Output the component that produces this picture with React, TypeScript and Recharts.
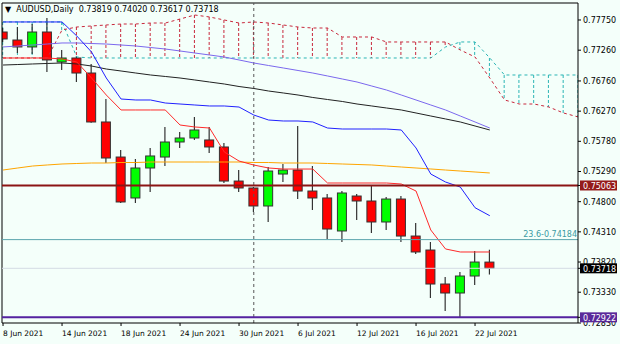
import React from "react"
import { ComposedChart, Bar, Line, XAxis, YAxis, ReferenceLine } from "recharts"

// bar index -> date label (every 4th bar)
const dateTicks = [0, 4, 8, 12, 16, 20, 24, 28, 32]
const dateLabels = ["8 Jun 2021", "14 Jun 2021", "18 Jun 2021", "24 Jun 2021", "30 Jun 2021", "6 Jul 2021", "12 Jul 2021", "16 Jul 2021", "22 Jul 2021"]

const priceTicks = [0.7775, 0.7726, 0.7676, 0.7627, 0.7578, 0.7529, 0.748, 0.7431, 0.7382, 0.7333, 0.7283]
// price tags on the axis (bid, resistance, support)
const tagValues = [0.73718, 0.75063, 0.72922]
const tagColors = ["#000000", "#941a1a", "#5a2a9a"]

const opens = [0.77555, 0.77425, 0.77312, 0.77555, 0.77068, 0.77133, 0.76889, 0.76094, 0.75525, 0.7486, 0.75347, 0.75525, 0.75769, 0.75834, 0.75802, 0.75688, 0.75135, 0.75022, 0.7473, 0.75249, 0.75314, 0.74973, 0.7486, 0.74324, 0.74892, 0.74811, 0.7447, 0.74843, 0.74242, 0.74015, 0.73463, 0.73317, 0.73593, 0.73819]
const highs = [0.7762, 0.77636, 0.77685, 0.77783, 0.77263, 0.77166, 0.77036, 0.76467, 0.75639, 0.75493, 0.75672, 0.76013, 0.75931, 0.76175, 0.76013, 0.75753, 0.75314, 0.75038, 0.75363, 0.75412, 0.76029, 0.75379, 0.74925, 0.74973, 0.74925, 0.75071, 0.74876, 0.74892, 0.74454, 0.74145, 0.73577, 0.73658, 0.73999, 0.7402]
const lows = [0.77393, 0.77214, 0.77198, 0.76906, 0.76938, 0.76743, 0.7608, 0.75428, 0.74778, 0.74778, 0.74957, 0.75379, 0.75672, 0.75802, 0.75591, 0.75103, 0.74957, 0.74632, 0.7447, 0.75119, 0.74843, 0.74665, 0.74194, 0.74145, 0.74502, 0.74291, 0.7434, 0.74145, 0.7395, 0.73236, 0.73025, 0.72922, 0.73447, 0.73617]
const closes = [0.77442, 0.77312, 0.77555, 0.77101, 0.77133, 0.76889, 0.76094, 0.75509, 0.74795, 0.75347, 0.75542, 0.75769, 0.75834, 0.75964, 0.75688, 0.75135, 0.75022, 0.7473, 0.75298, 0.75314, 0.74973, 0.7486, 0.74356, 0.74941, 0.74811, 0.7447, 0.74843, 0.74242, 0.73983, 0.73463, 0.73317, 0.73593, 0.7382, 0.73718]

const tenkan = [0.77133, 0.77133, 0.77133, 0.77133, 0.77117, 0.77068, 0.76808, 0.76532, 0.76289, 0.76289, 0.76289, 0.76289, 0.76045, 0.76013, 0.75996, 0.75607, 0.7546, 0.75395, 0.75347, 0.7533, 0.7533, 0.7533, 0.75103, 0.75103, 0.75103, 0.75103, 0.75103, 0.75087, 0.74973, 0.7434, 0.74032, 0.73983, 0.73983, 0.73983]
const kijun = [0.77718, 0.77718, 0.77718, 0.77718, 0.77718, 0.7749, 0.7723, 0.76808, 0.76467, 0.76451, 0.76451, 0.76402, 0.76386, 0.7637, 0.76354, 0.76354, 0.76337, 0.76207, 0.76126, 0.7611, 0.7611, 0.76094, 0.75996, 0.7598, 0.7598, 0.7598, 0.7598, 0.75964, 0.75672, 0.75249, 0.75119, 0.75038, 0.74702, 0.74572]
const maSlate = [0.77312, 0.77328, 0.77344, 0.7736, 0.77377, 0.77377, 0.77368, 0.7736, 0.77344, 0.77328, 0.77303, 0.77279, 0.77247, 0.77214, 0.77182, 0.77149, 0.77101, 0.77052, 0.77011, 0.76971, 0.7693, 0.76889, 0.76841, 0.76792, 0.76743, 0.76678, 0.76613, 0.76532, 0.76451, 0.7637, 0.76289, 0.76191, 0.76094, 0.75996]
const maBlack = [0.77019, 0.77027, 0.77036, 0.77044, 0.77052, 0.77036, 0.77003, 0.76954, 0.76922, 0.76889, 0.76857, 0.76833, 0.76808, 0.76776, 0.76743, 0.76711, 0.7667, 0.76638, 0.76597, 0.76565, 0.76532, 0.76492, 0.76459, 0.76427, 0.76386, 0.76354, 0.76321, 0.76289, 0.7624, 0.76191, 0.76143, 0.76094, 0.76029, 0.75964]
const maOrange = [0.75314, 0.75347, 0.75379, 0.75396, 0.75412, 0.7542, 0.75428, 0.75428, 0.75436, 0.75436, 0.75444, 0.75444, 0.75444, 0.75444, 0.75444, 0.75444, 0.75444, 0.75436, 0.75436, 0.75428, 0.75428, 0.75428, 0.7542, 0.75412, 0.75404, 0.75396, 0.75379, 0.75363, 0.75347, 0.75331, 0.75314, 0.75298, 0.75282, 0.75266]
// cloud spans run 6 bars past the last candle
const spanA = [0.77718, 0.77718, 0.77718, 0.77718, 0.77718, 0.77149, 0.77133, 0.77133, 0.77133, 0.77133, 0.77133, 0.77133, 0.77133, 0.77133, 0.77133, 0.77133, 0.77133, 0.77133, 0.77133, 0.77133, 0.77133, 0.77133, 0.77133, 0.77133, 0.77133, 0.77133, 0.77133, 0.77133, 0.77133, 0.77133, 0.77312, 0.77393, 0.77393, 0.77133, 0.76857, 0.76857, 0.76857, 0.76857, 0.76857, 0.76857]
const spanB = [0.77133, 0.77133, 0.77133, 0.77133, 0.77588, 0.77636, 0.77653, 0.77669, 0.77685, 0.77685, 0.77701, 0.77701, 0.77766, 0.77831, 0.77799, 0.7775, 0.77701, 0.77718, 0.77701, 0.77669, 0.77636, 0.7762, 0.7762, 0.77474, 0.77474, 0.77474, 0.77393, 0.77393, 0.77393, 0.77393, 0.77393, 0.77263, 0.77149, 0.76808, 0.76451, 0.76386, 0.76386, 0.76337, 0.7624, 0.76175]

const rows = spanA.map((a, i) => {
  const b = spanB[i]
  const has = i < opens.length
  const lo = Math.min(a, b, has ? lows[i] : 9)
  const hi = Math.max(a, b, has ? highs[i] : 0)
  return {
    i,
    open: has ? opens[i] : null,
    high: has ? highs[i] : null,
    low: has ? lows[i] : null,
    close: has ? closes[i] : null,
    tenkan: has ? tenkan[i] : null,
    kijun: has ? kijun[i] : null,
    maSlate: has ? maSlate[i] : null,
    maBlack: has ? maBlack[i] : null,
    maOrange: has ? maOrange[i] : null,
    spanA: a,
    spanB: b,
    range: [lo, hi],
  }
})

const FONT = "'DejaVu Sans', Verdana, sans-serif"

function CandleShape(props: any) {
  const { x, y, width, height, payload } = props
  if (!payload || !payload.range) return null
  const [lo, hi] = payload.range
  if (hi <= lo) return null
  const top = Math.min(y, y + height)
  const bot = Math.max(y, y + height)
  const py = (p: number) => top + ((hi - p) / (hi - lo)) * (bot - top)
  const cx = x + width / 2
  const cloudUp = payload.spanB > payload.spanA
  const hatch = (
    <line
      x1={cx} x2={cx}
      y1={py(Math.max(payload.spanA, payload.spanB))}
      y2={py(Math.min(payload.spanA, payload.spanB))}
      stroke={cloudUp ? "#c8283c" : "#2bb5b5"}
      strokeDasharray="3 2"
    />
  )
  if (payload.open == null) return <g>{hatch}</g>
  const bull = payload.close >= payload.open
  const bTop = py(Math.max(payload.open, payload.close))
  const bBot = py(Math.min(payload.open, payload.close))
  return (
    <g>
      {hatch}
      <line x1={cx} x2={cx} y1={py(payload.high)} y2={py(payload.low)} stroke="#333" strokeWidth={1.2} />
      <rect x={cx - 4.5} y={bTop} width={9} height={Math.max(1, bBot - bTop)}
        fill={bull ? "#00ff00" : "#ff0000"} stroke="#333" strokeWidth={1} />
    </g>
  )
}

function DateTick(props: any) {
  const { x, y, payload } = props
  const k = dateTicks.indexOf(payload.value)
  return (
    <text x={x} y={y + 8} fontSize={7.5} fontFamily={FONT} fill="#000" textAnchor="start">
      {k >= 0 ? dateLabels[k] : ""}
    </text>
  )
}

function PriceTick(props: any) {
  const { x, y, payload } = props
  const v = payload.value
  const t = tagValues.indexOf(v)
  if (t >= 0) {
    return (
      <g>
        <rect x={x - 3} y={y - 5} width={37} height={10} fill={tagColors[t]} />
        <text x={x} y={y + 3.2} fontSize={8} fontFamily={FONT} fill="#fff">{v.toFixed(5)}</text>
      </g>
    )
  }
  return (
    <text x={x} y={y + 3} fontSize={8} fontFamily={FONT} fill="#000">{v.toFixed(5)}</text>
  )
}

function FiboText(props: any) {
  const { viewBox } = props
  if (!viewBox) return null
  return (
    <text x={viewBox.x + viewBox.width - 1} y={viewBox.y - 3} fontSize={8} fontFamily={FONT}
      fill="#3a9aa2" textAnchor="end">
      23.6-0.74184
    </text>
  )
}

export default function App() {
  return (
    <div style={{ position: "relative", width: 620, height: 344, background: "#f4fffa", overflow: "hidden" }}>
      <style>{`body{margin:0}`}</style>

      <ComposedChart width={620} height={344} data={rows} margin={{ top: 3, right: 0, bottom: 0, left: 2 }}>
        <XAxis
          dataKey="i" type="number" domain={[-0.07, 38.98]} allowDataOverflow
          ticks={dateTicks} tick={<DateTick />} interval={0}
          height={21} tickSize={3} tickMargin={2}
          axisLine={{ stroke: "#000" }} tickLine={{ stroke: "#000" }}
        />
        <YAxis
          orientation="right" type="number" domain={[0.7283, 0.78026]} allowDataOverflow
          ticks={[...priceTicks, ...tagValues]} interval={0} width={42} tickSize={3} tickMargin={2}
          tick={<PriceTick />}
          axisLine={{ stroke: "#000" }} tickLine={{ stroke: "#000" }}
        />

        <ReferenceLine x={-0.07} stroke="#000" />
        <ReferenceLine y={0.78026} stroke="#000" />
        <ReferenceLine x={17} stroke="#555" strokeDasharray="3 3" />

        <Bar dataKey="range" barSize={10} shape={<CandleShape />} isAnimationActive={false} />

        <Line dataKey="spanA" stroke="#2bb5b5" strokeDasharray="3 3" dot={false} isAnimationActive={false} />
        <Line dataKey="spanB" stroke="#c8283c" strokeDasharray="3 3" dot={false} isAnimationActive={false} />
        <Line dataKey="maOrange" stroke="#ffa500" dot={false} isAnimationActive={false} />
        <Line dataKey="maBlack" stroke="#222" dot={false} isAnimationActive={false} />
        <Line dataKey="maSlate" stroke="#7b68ee" dot={false} isAnimationActive={false} />
        <Line dataKey="kijun" stroke="#2020ff" dot={false} isAnimationActive={false} />
        <Line dataKey="tenkan" stroke="#ff2a2a" dot={false} isAnimationActive={false} />

        <ReferenceLine y={tagValues[0]} stroke="#d4dbe4" />
        <ReferenceLine y={0.74184} stroke="#5aa4ac" label={<FiboText />} />
        <ReferenceLine y={tagValues[1]} stroke="#8b1414" strokeWidth={2} />
        <ReferenceLine y={tagValues[2]} stroke="#5522a0" strokeWidth={2} />
      </ComposedChart>

      <div style={{ position: "absolute", left: 5, top: 5, fontFamily: FONT, fontSize: 8, lineHeight: "10px", whiteSpace: "pre", color: "#000" }}>
        {"\u25BC  AUDUSD,Daily  0.73819 0.74020 0.73617 0.73718"}
      </div>
    </div>
  )
}
